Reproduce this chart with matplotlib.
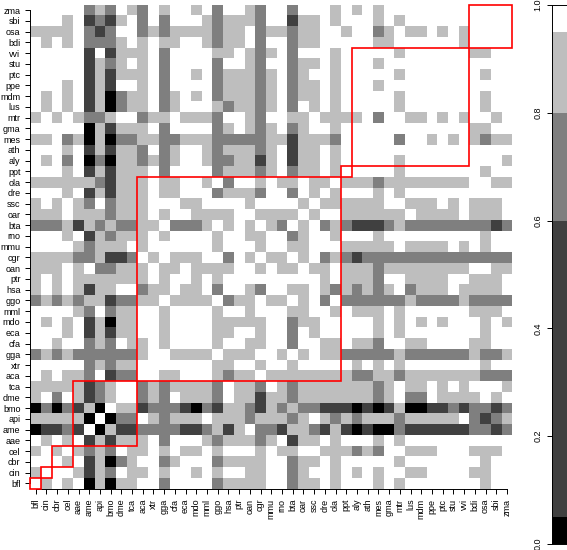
import numpy as np
import matplotlib
matplotlib.use('Agg')
import matplotlib.pyplot as plt
from matplotlib.colors import ListedColormap, BoundaryNorm
from matplotlib.patches import Rectangle

plt.rcParams['font.family'] = ['Liberation Sans', 'DejaVu Sans']

species = ['bfl', 'cin', 'cbr', 'cel', 'aae', 'ame', 'api', 'bmo', 'dme', 'tca',
           'aca', 'xtr', 'gga', 'cfa', 'eca', 'mdo', 'mml', 'ggo', 'hsa', 'ptr',
           'oan', 'cgr', 'mmu', 'rno', 'bta', 'oar', 'ssc', 'dre', 'ola', 'ppt',
           'aly', 'ath', 'mes', 'gma', 'mtr', 'lus', 'mdm', 'ppe', 'ptc', 'stu',
           'vvi', 'bdi', 'osa', 'sbi', 'zma']

# lower triangle, one string per row, bfl first; digit = colour class
# spaces only split the columns 0-14 / 15-31 / 32+ so it stays readable
rows = [
    '0',
    '10',
    '000',
    '1010',
    '01010',
    '433230',
    '1111140',
    '42423140',
    '102013210',
    '1111132100',
    '01011203220',
    '000002121100',
    '2121222222100',
    '00100212011010',
    '000103131100100',
    '010103141100100 0',
    '000012021100100 00',
    '212121132211011 110',
    '101013110021101 1020',
    '101011111110100 10100',
    '111010221110110 111100',
    '111122133201011 1002010',
    '000012111010000 00100010',
    '000103121110100 001001100',
    '222131212211022 2101010120',
    '111011121110100 11110011110',
    '101012021110001 100001000010',
    '000103131110110 0021112002010',
    '111111231110110 01020010110110',
    '000103131110200 002111210211010',
    '010204241121210 0122113103110100',
    '000103131120210 01211121031101000',
    '110214142211221 11222221131112000 0',
    '000004131110200 00210121021001000 00',
    '101012210021101 11200120011011110 200',
    '010103142110210 00121121020101000 0010',
    '010103142110210 10211121021101000 00100',
    '000103130010200 00211121021101000 100000',
    '000003131110200 10211121021001000 0010000',
    '000003121010200 00200120021101000 10000000',
    '000003031110200 00110121020001000 001000000',
    '010102221010110 01211020021100000 1100000010',
    '111102320021211 11211021121100100 21011010100',
    '000103231020200 01211120031101000 101000000000',
    '000002120120100 10200120020001010 1000000000000',
]

# p-value class representatives and the colour bar classes
class_values = [0.98, 0.9, 0.7, 0.3, 0.02]
bar_edges = [0, 0.05, 0.6, 0.8, 0.95, 1]
bar_colors = ['#000000', '#404040', '#7f7f7f', '#bebebe', '#ffffff']
bar_ticks = [0.0, 0.2, 0.4, 0.6, 0.8, 1.0]

# clade blocks along the diagonal
block_sizes = [1, 1, 2, 6, 19, 1, 11, 4]

n = len(species)
mat = np.zeros((n, n))
for i, r in enumerate(rows):
    r = r.replace(' ', '')
    assert len(r) == i + 1, species[i]
    for j, c in enumerate(r):
        mat[i, j] = class_values[int(c)]
        mat[j, i] = class_values[int(c)]

W, H = 567, 550
fig = plt.figure(figsize=(W / 100, H / 100), dpi=100)

cmap = ListedColormap(bar_colors)
norm = BoundaryNorm(bar_edges, cmap.N)

ax = fig.add_axes([30.3 / W, 1 - 488.7 / H, 482 / W, 484 / H])
ax.pcolormesh(np.arange(n + 1), np.arange(n + 1), mat, cmap=cmap, norm=norm)
ax.set_xlim(0, n)
ax.set_ylim(0, n)
pos = np.arange(n) + 0.5
ax.set_xticks(pos)
ax.set_xticklabels(species, rotation=90, fontsize=6.5)
ax.set_yticks(pos)
ax.set_yticklabels(species, fontsize=6.5)
ax.tick_params(length=3.6, width=0.7, pad=3.5)
ax.spines['top'].set_visible(False)
ax.spines['right'].set_visible(False)
ax.spines['left'].set_bounds(0.5, n - 0.5)
ax.spines['bottom'].set_bounds(0.5, n - 0.5)
ax.spines['left'].set_linewidth(0.7)
ax.spines['bottom'].set_linewidth(0.7)

start = 0
for s in block_sizes:
    ax.add_patch(Rectangle((start, start), s, s, fill=False, edgecolor='red',
                           linewidth=1.2, clip_on=False, zorder=5))
    start += s

cax = fig.add_axes([552 / W, 1 - 544 / H, 16 / W, 539 / H])
for k in range(len(bar_colors)):
    cax.barh(bar_edges[k], 1, height=bar_edges[k + 1] - bar_edges[k], align='edge',
             color=bar_colors[k], linewidth=0)
cax.set_xlim(0, 1)
cax.set_ylim(0, 1)
cax.set_xticks([])
cax.set_yticks(bar_ticks)
cax.set_yticklabels(['%.1f' % t for t in bar_ticks], rotation=90, va='center', fontsize=6.5)
cax.tick_params(length=3.6, width=0.7, pad=3.5)
for sp in cax.spines.values():
    sp.set_linewidth(0.7)

fig.savefig('out.png', dpi=100)
